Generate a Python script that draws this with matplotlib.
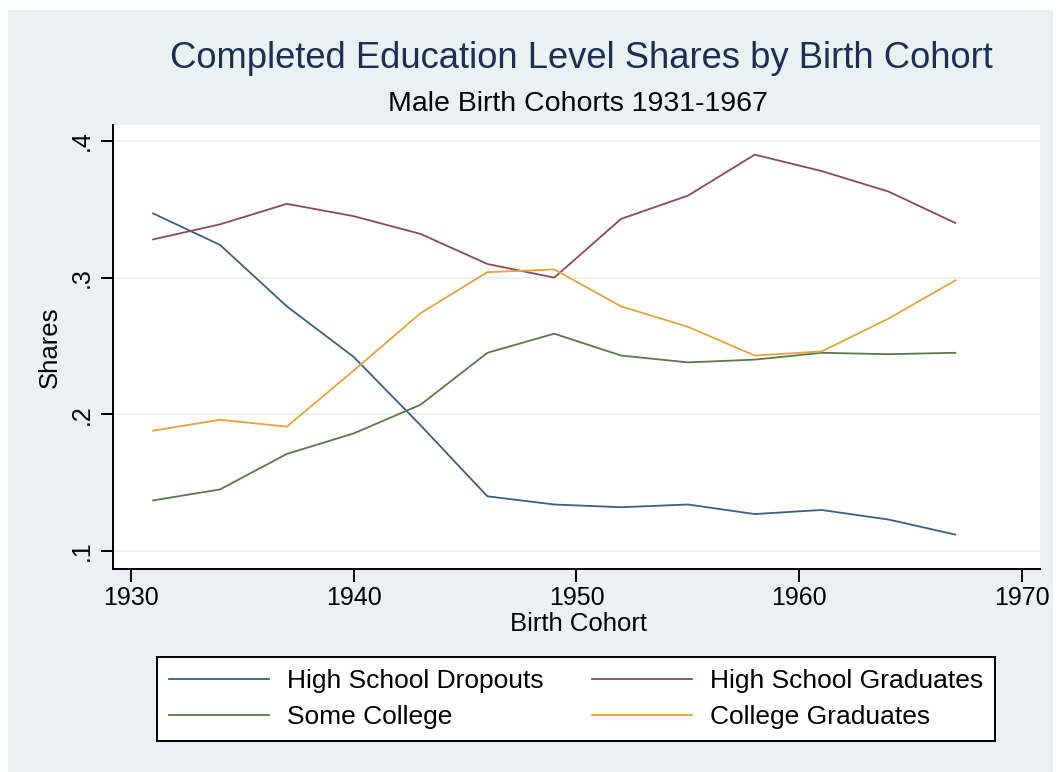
import matplotlib.pyplot as plt
from matplotlib.patches import Rectangle

plt.rcParams['font.family'] = ['Liberation Sans', 'DejaVu Sans']

years = [1931, 1934, 1937, 1940, 1943, 1946, 1949, 1952, 1955, 1958, 1961, 1964, 1967]
hs_dropouts = [0.347, 0.324, 0.279, 0.242, 0.192, 0.140, 0.134, 0.132, 0.134, 0.127, 0.130, 0.123, 0.112]
hs_graduates = [0.328, 0.339, 0.354, 0.345, 0.332, 0.310, 0.300, 0.343, 0.360, 0.390, 0.378, 0.363, 0.340]
some_college = [0.137, 0.145, 0.171, 0.186, 0.207, 0.245, 0.259, 0.243, 0.238, 0.240, 0.245, 0.244, 0.245]
college_grads = [0.188, 0.196, 0.191, 0.232, 0.274, 0.304, 0.306, 0.279, 0.264, 0.243, 0.246, 0.270, 0.298]

labels = ['High School Dropouts', 'High School Graduates', 'Some College', 'College Graduates']
colors = ['#3D5F7F', '#8C4A58', '#5A7849', '#E6A43C']

W, H = 1062, 772
fig = plt.figure(figsize=(W / 100, H / 100), dpi=100, facecolor='white')
fig.patches.append(Rectangle((8 / W, 0), (1053 - 8) / W, 1 - 10 / H,
                             transform=fig.transFigure, facecolor='#EAF1F3',
                             edgecolor='none', zorder=-5))

ax = fig.add_axes([113 / W, 1 - 569 / H, (1040 - 113) / W, (569 - 125) / H])
ax.set_facecolor('white')

series = [hs_dropouts, hs_graduates, some_college, college_grads]
handles = []
for vals, col, lab in zip(series, colors, labels):
    h, = ax.plot(years, vals, color=col, lw=1.3, label=lab)
    handles.append(h)

ax.set_xlim(1929.2, 1970.8)
ax.set_ylim(0.0868, 0.4117)
ax.set_xticks([1930, 1940, 1950, 1960, 1970])
ax.set_yticks([0.1, 0.2, 0.3, 0.4])
ax.set_yticklabels(['.1', '.2', '.3', '.4'], rotation=90, va='center')
ax.grid(axis='y', color='#EAF1F3', lw=1.2)
ax.set_axisbelow(True)
for s in ['top', 'right']:
    ax.spines[s].set_visible(False)
for s in ['left', 'bottom']:
    ax.spines[s].set_linewidth(1.4)
ax.tick_params(axis='both', direction='out', length=9, width=1.4, labelsize=18, pad=3)
ax.tick_params(axis='y', pad=5)

fig.text(581 / W, 1 - 59 / H, 'Completed Education Level Shares by Birth Cohort',
         ha='center', va='center', fontsize=26.2, color='#1E2D53')
fig.text(578 / W, 1 - 104 / H, 'Male Birth Cohorts 1931-1967',
         ha='center', va='center', fontsize=20.5, color='black')
fig.text(50 / W, 1 - 347 / H, 'Shares', ha='center', va='center', rotation=90, fontsize=18.5)
fig.text(578 / W, 1 - 624 / H, 'Birth Cohort', ha='center', va='center', fontsize=18.5)

order = [0, 2, 1, 3]
leg = fig.legend([handles[i] for i in order], [labels[i] for i in order], ncol=2,
                 loc='center', bbox_to_anchor=(576 / W, 1 - 699 / H),
                 frameon=True, fancybox=False, framealpha=1, fontsize=19,
                 handlelength=3.8, columnspacing=1.8, handletextpad=0.7,
                 labelspacing=0.45, borderpad=0.45, borderaxespad=0)
leg.get_frame().set_edgecolor('black')
leg.get_frame().set_linewidth(1.4)
leg.get_frame().set_facecolor('white')

fig.savefig('out.png', dpi=100, facecolor=fig.get_facecolor())
